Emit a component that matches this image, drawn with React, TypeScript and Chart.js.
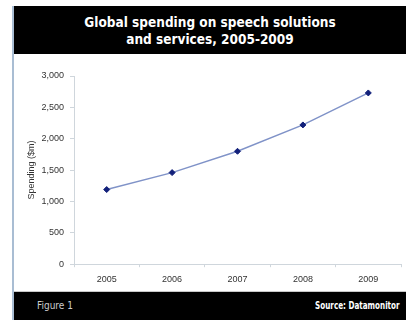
import React, { useEffect, useRef } from "react";
import { Chart, registerables } from "chart.js";

Chart.register(...registerables);

const categories = ["2005", "2006", "2007", "2008", "2009"];
const spending = [1190, 1460, 1800, 2220, 2730];
const yTicks = [0, 500, 1000, 1500, 2000, 2500, 3000];
const titleLines = ["Global spending on speech solutions", "and services, 2005-2009"];
const figureLabel = "Figure 1";
const sourceLabel = "Source: Datamonitor";
const yAxisTitle = "Spending ($m)";

export default function App() {
  const ref = useRef<HTMLCanvasElement | null>(null);

  useEffect(() => {
    document.body.style.margin = "0";
    const ctx = ref.current!;
    const chart = new Chart(ctx, {
      type: "line",
      data: {
        labels: categories,
        datasets: [
          {
            data: spending,
            borderColor: "#8093c8",
            borderWidth: 1.5,
            pointStyle: "rectRot",
            pointRadius: 3,
            pointBackgroundColor: "#12207a",
            pointBorderColor: "#12207a",
            pointBorderWidth: 1,
            tension: 0,
            fill: false,
          },
        ],
      },
      options: {
        animation: false,
        responsive: false,
        maintainAspectRatio: false,
        layout: { padding: { top: 22, right: 5, left: 12, bottom: 0 } },
        plugins: { legend: { display: false }, tooltip: { enabled: false }, title: { display: false } },
        scales: {
          x: {
            type: "category",
            offset: true,
            grid: {
              display: true,
              offset: true,
              drawOnChartArea: false,
              tickLength: 3,
              color: "#cfd6dc",
            },
            border: { display: true, color: "#cfd6dc" },
            ticks: {
              color: "#333333",
              font: { family: "Liberation Sans", size: 9 },
              padding: 7,
            },
          },
          y: {
            min: 0,
            max: 3000,
            afterBuildTicks: (axis: any) => {
              axis.ticks = yTicks.map((v) => ({ value: v }));
            },
            afterFit: (axis: any) => {
              axis.width = 48;
            },
            grid: {
              display: true,
              drawOnChartArea: false,
              tickLength: 4,
              color: "#cfd6dc",
            },
            border: { display: true, color: "#cfd6dc" },
            ticks: {
              color: "#333333",
              font: { family: "Liberation Sans", size: 9 },
              padding: 6,
              callback: (v: any) => Number(v).toLocaleString("en-US"),
            },
            title: {
              display: true,
              text: yAxisTitle,
              color: "#333333",
              font: { family: "Liberation Sans", size: 9 },
              padding: { top: 0, bottom: 2 },
            },
          },
        },
      },
    });
    return () => chart.destroy();
  }, []);

  return (
    <div
      style={{
        position: "absolute",
        left: 0,
        top: 0,
        width: 406,
        height: 320,
        background: "#ffffff",
        overflow: "hidden",
      }}
    >
      <div
        style={{
          position: "absolute",
          left: 12,
          top: 6,
          width: 394,
          height: 314,
          borderLeft: "2px solid #a9bdd3",
          boxSizing: "border-box",
        }}
      >
        <div
          style={{
            position: "absolute",
            left: 0,
            top: 0,
            width: 392,
            height: 48,
            background: "#000000",
            color: "#ffffff",
            fontFamily: "'DejaVu Sans Condensed', 'DejaVu Sans', sans-serif",
            fontWeight: "bold",
            fontSize: 13.5,
            lineHeight: "17px",
            textAlign: "center",
            paddingTop: 8,
            boxSizing: "border-box",
          }}
        >
          {titleLines.map((t, i) => (
            <div key={i}>{t}</div>
          ))}
        </div>
        <canvas
          ref={ref}
          width={392}
          height={238}
          style={{ position: "absolute", left: 0, top: 48, width: 392, height: 238, display: "block" }}
        />
        <div
          style={{
            position: "absolute",
            left: 0,
            top: 285,
            width: 392,
            height: 1,
            background: "#c8c8c8",
          }}
        />
        <div
          style={{
            position: "absolute",
            left: 0,
            top: 286,
            width: 392,
            height: 28,
            background: "#000000",
            fontFamily: "'DejaVu Sans Condensed', 'DejaVu Sans', sans-serif",
          }}
        >
          <span
            style={{
              position: "absolute",
              left: 23,
              top: 8,
              color: "#cccccc",
              fontSize: 10,
            }}
          >
            {figureLabel}
          </span>
          <span
            style={{
              position: "absolute",
              right: 6,
              top: 8,
              color: "#ffffff",
              fontSize: 10,
              fontWeight: "bold",
              transform: "scaleX(0.8)",
              transformOrigin: "right center",
              whiteSpace: "nowrap",
            }}
          >
            {sourceLabel}
          </span>
        </div>
      </div>
    </div>
  );
}
